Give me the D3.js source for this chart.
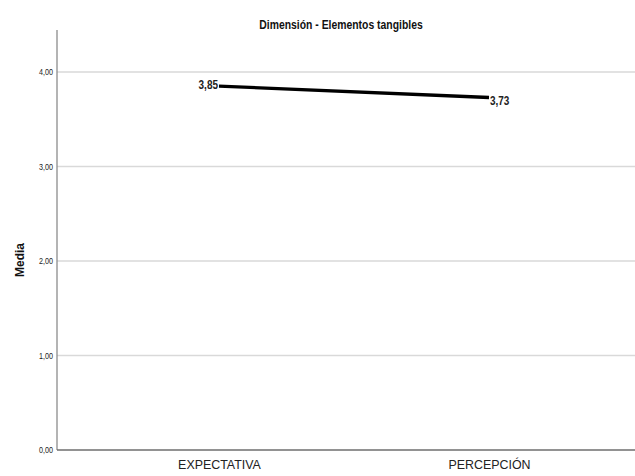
<!DOCTYPE html>
<html><head><meta charset="utf-8">
<script src="https://cdn.jsdelivr.net/npm/d3@7"></script>
<style>body{margin:0;background:#fff}</style>
</head><body>
<script>
const categories = ["EXPECTATIVA", "PERCEPCIÓN"];
const values = [3.85, 3.73];
const valueLabels = ["3,85", "3,73"];
const yTicks = [0, 1, 2, 3, 4];
const yTickLabels = ["0,00", "1,00", "2,00", "3,00", "4,00"];
const title = "Dimensión - Elementos tangibles";
const yTitle = "Media";

const W = 635, H = 476;
const font = "'Liberation Sans',Arial,sans-serif";
const cx = 0.8; // horizontal condensing to mimic a narrow face
const svg = d3.select("body").append("svg").attr("width", W).attr("height", H);

const x0 = 57, x1 = 635, yTop = 30, yBot = 450;
const y = d3.scaleLinear().domain([0, 4.444]).range([yBot, yTop]);
const x = d3.scalePoint().domain(categories).range([x0, x1 + 16]).padding(0.6);

// gridlines
svg.append("g").selectAll("line").data(yTicks.filter(d => d > 0)).join("line")
  .attr("x1", x0).attr("x2", x1).attr("y1", d => y(d)).attr("y2", d => y(d))
  .attr("stroke", "#d9d9d9").attr("stroke-width", 1.5);

// y axis
const yAxis = d3.axisLeft(y).tickValues(yTicks).tickFormat((d, i) => yTickLabels[i]).tickSize(0).tickPadding(5);
const ga = svg.append("g").attr("transform", `translate(${x0},0)`).call(yAxis);
ga.select(".domain").remove();
ga.selectAll("text").attr("font-family", font).attr("font-size", 9).attr("fill", "#222")
  .attr("transform", `scale(${cx},1)`);
svg.append("line").attr("x1", x0).attr("x2", x0).attr("y1", yTop).attr("y2", yBot)
  .attr("stroke", "#8c8c8c").attr("stroke-width", 1.3);

// x axis
const xAxis = d3.axisBottom(x).tickSize(0).tickPadding(9);
const gx = svg.append("g").attr("transform", `translate(0,${yBot})`).call(xAxis);
gx.select(".domain").remove();
gx.selectAll("text").attr("font-family", font).attr("font-size", 13.5).attr("fill", "#222")
  .attr("transform", `scale(0.92,1)`);
svg.append("line").attr("x1", x0).attr("x2", x1).attr("y1", yBot).attr("y2", yBot)
  .attr("stroke", "#6e6e6e").attr("stroke-width", 1.3);

// line
const pts = categories.map((c, i) => [x(c), y(values[i])]);
svg.append("path").attr("d", d3.line()(pts)).attr("fill", "none")
  .attr("stroke", "#000").attr("stroke-width", 3.3);

// value labels
svg.append("text").attr("transform", `translate(${pts[0][0] - 1},${pts[0][1] + 3}) scale(${cx},1)`)
  .attr("text-anchor", "end").attr("font-family", font).attr("font-weight", "bold")
  .attr("font-size", 12.5).attr("fill", "#222").text(valueLabels[0]);
svg.append("text").attr("transform", `translate(${pts[1][0] + 1},${pts[1][1] + 8}) scale(${cx},1)`)
  .attr("text-anchor", "start").attr("font-family", font).attr("font-weight", "bold")
  .attr("font-size", 12.5).attr("fill", "#222").text(valueLabels[1]);

// title
svg.append("text").attr("transform", `translate(341,29) scale(${cx},1)`).attr("text-anchor", "middle")
  .attr("font-family", font).attr("font-weight", "bold").attr("font-size", 13)
  .attr("fill", "#111").text(title);

// y title
svg.append("text").attr("transform", `translate(24,${(yTop + yBot) / 2 + 20}) rotate(-90)`)
  .attr("text-anchor", "middle").attr("font-family", font)
  .attr("font-weight", "bold").attr("font-size", 12).attr("fill", "#111").text(yTitle);
</script>
</body></html>
